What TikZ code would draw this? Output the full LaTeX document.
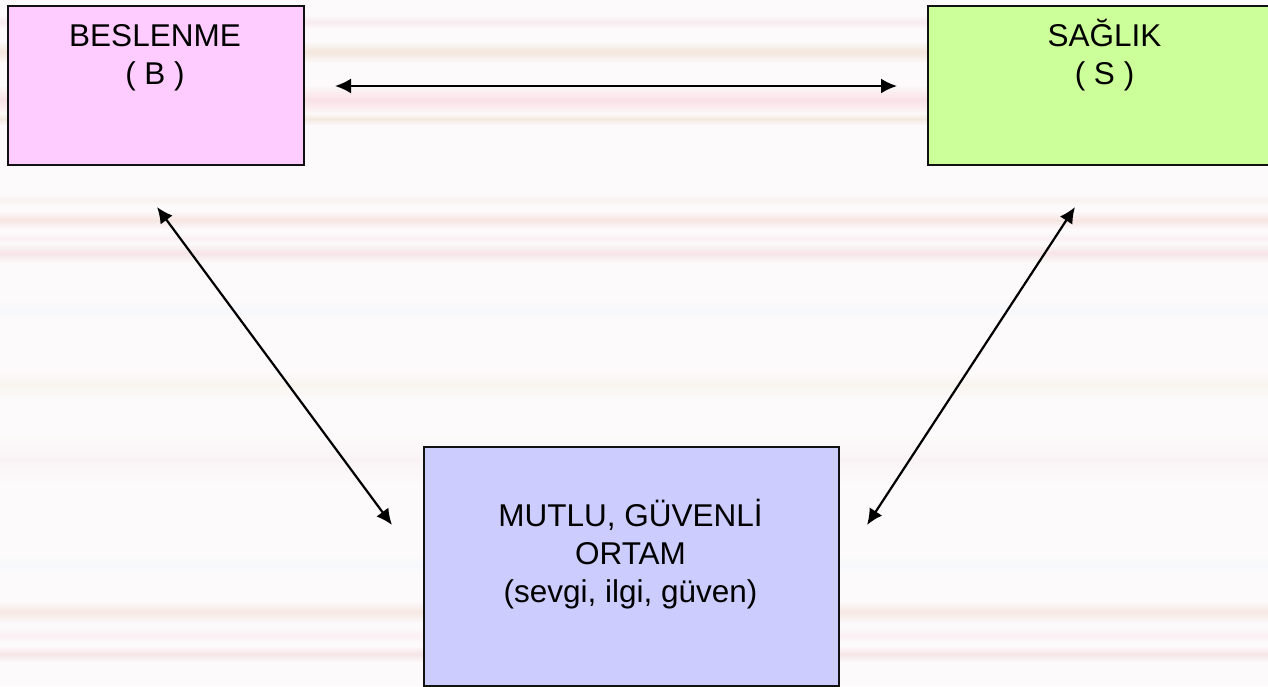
\documentclass[tikz,border=0pt]{standalone}
\usepackage{fontspec}
\setmainfont{Liberation Sans}
\usetikzlibrary{arrows.meta}
\definecolor{bgc}{HTML}{FCFAFA}
\definecolor{bfill}{HTML}{FFCCFF}
\definecolor{sfill}{HTML}{CCFF99}
\definecolor{mfill}{HTML}{CCCCFF}
\definecolor{bdr}{HTML}{111111}
\definecolor{bA}{HTML}{F9ECF0}
\definecolor{bB}{HTML}{F3E6DC}
\definecolor{bC}{HTML}{FAE1E6}
\definecolor{bD}{HTML}{F4E9E0}
\definecolor{bE}{HTML}{F9F3F0}
\definecolor{bF}{HTML}{F6E5E2}
\definecolor{bG}{HTML}{FBF1F5}
\definecolor{bH}{HTML}{F6E5E7}
\definecolor{bI}{HTML}{F6F8FC}
\definecolor{bJ}{HTML}{F9F4EE}
\definecolor{bK}{HTML}{FAF3F5}
\definecolor{bL}{HTML}{F6F8FC}
\definecolor{bM}{HTML}{F5E8E3}
\definecolor{bN}{HTML}{FCF0F5}
\definecolor{bO}{HTML}{F6E5E7}
\newcommand\bgband[3]{%
  \shade[top color=bgc, bottom color=#3] (0,{#1-#2}) rectangle (1268,#1);
  \shade[top color=#3, bottom color=bgc] (0,#1) rectangle (1268,{#1+#2});}
\begin{document}
\begin{tikzpicture}[x=1pt,y=-1pt,
  box/.style={draw=bdr, line width=2pt, rectangle, inner sep=0pt, anchor=north west},
  lbl/.style={align=center, inner sep=0pt, anchor=base, font=\fontsize{31.5}{38}\selectfont},
  conn/.style={line width=2.2pt, {Latex[length=16pt,width=15pt]}-{Latex[length=16pt,width=15pt]}}]
\useasboundingbox (0,0) rectangle (1268,686);
\fill[bgc] (0,0) rectangle (1268,686);
\bgband{22}{7}{bA}
\bgband{52}{11}{bB}
\bgband{100}{15}{bC}
\bgband{119}{6}{bD}
\bgband{200}{6}{bE}
\bgband{220}{9}{bF}
\bgband{238}{6}{bG}
\bgband{253}{10}{bH}
\bgband{310}{9}{bI}
\bgband{385}{13}{bJ}
\bgband{459}{25}{bK}
\bgband{565}{9}{bL}
\bgband{612}{11}{bM}
\bgband{635}{8}{bN}
\bgband{654}{8}{bO}
\node[box, fill=bfill, minimum width=296pt, minimum height=159pt] (B) at (7,5) {};
\node[box, fill=sfill, minimum width=355pt, minimum height=159pt] (S) at (927,5) {};
\node[box, fill=mfill, minimum width=415pt, minimum height=239pt] (M) at (423,446) {};
\node[lbl] (Bt) at (155,84) {BESLENME\\( B )};
\node[lbl] (St) at (1104.5,84) {SAĞLIK\\( S )};
\node[lbl] (Mt) at (630.5,602) {MUTLU, GÜVENLİ\\ORTAM\\(sevgi, ilgi, güven)};
\coordinate (h1) at (335,86);
\coordinate (h2) at (897,86);
\coordinate (d1) at (157,207);
\coordinate (d2) at (392,525);
\coordinate (d3) at (1075,207);
\coordinate (d4) at (867,525);
\draw[conn] (h1) -- (h2);
\draw[conn] (d1) -- (d2);
\draw[conn] (d3) -- (d4);
\end{tikzpicture}
\end{document}
